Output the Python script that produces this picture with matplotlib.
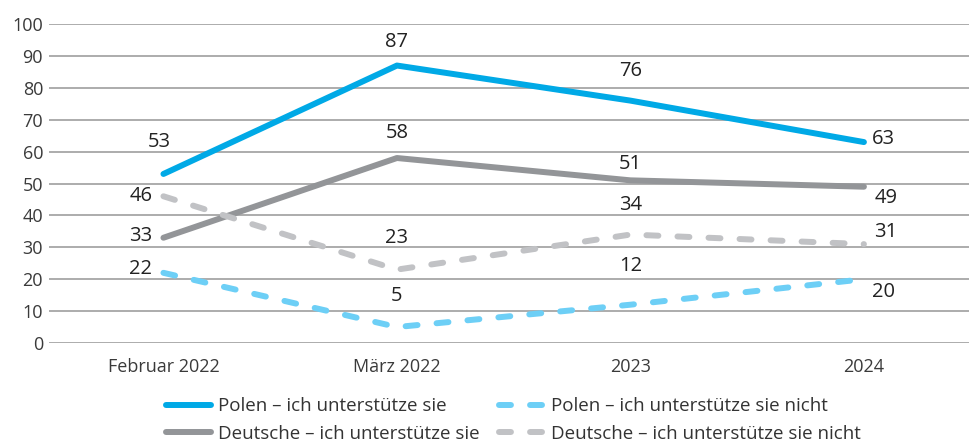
import matplotlib
matplotlib.use("Agg")
from matplotlib import pyplot as plt

plt.rcParams['font.family'] = ['Open Sans', 'DejaVu Sans']

kategorien = ['Februar 2022', 'März 2022', '2023', '2024']
polen_ja = [53, 87, 76, 63]
polen_nein = [22, 5, 12, 20]
deutsche_ja = [33, 58, 51, 49]
deutsche_nein = [46, 23, 34, 31]

namen = ['Polen – ich unterstütze sie', 'Deutsche – ich unterstütze sie',
         'Polen – ich unterstütze sie nicht', 'Deutsche – ich unterstütze sie nicht']

fig = plt.figure(figsize=(9.69, 4.46), dpi=100)
ax = fig.add_axes([0.0506, 0.231, 0.9494, 0.715])

x = range(len(kategorien))
lw = 4.3
l1, = ax.plot(x, polen_ja, color='#00a9e6', lw=lw, solid_capstyle='round', clip_on=False)
l2, = ax.plot(x, deutsche_ja, color='#939598', lw=lw, solid_capstyle='round', clip_on=False)
l3, = ax.plot(x, polen_nein, color='#6dcff6', lw=lw, dashes=(2, 3.2),
              dash_capstyle='round', clip_on=False)
l4, = ax.plot(x, deutsche_nein, color='#c1c2c5', lw=lw, dashes=(2, 3.2),
              dash_capstyle='round', clip_on=False)

# Beschriftungen (Versatz in Punkten)
def label(xs, ys, offs):
    for xi, yi, (dx, dy, ha) in zip(xs, ys, offs):
        ax.annotate(str(yi), (xi, yi), xytext=(dx, dy), textcoords='offset points',
                    ha=ha, va='center', fontsize=14.5, color='#222222')

label(x, polen_ja, [(-3, 23, 'center'), (0, 17, 'center'), (0, 21, 'center'), (6, 2, 'left')])
label(x, deutsche_ja, [(-8, 1, 'right'), (0, 18, 'center'), (0, 12, 'center'), (8, -8, 'left')])
label(x, deutsche_nein, [(-8, 0, 'right'), (0, 23, 'center'), (0, 21, 'center'), (7, 9, 'left')])
label(x, polen_nein, [(-8, 3, 'right'), (0, 22, 'center'), (0, 28, 'center'), (6, -9, 'left')])

ax.set_ylim(0, 100)
ax.set_xlim(-0.49, 3.45)
ax.set_yticks(range(0, 101, 10))
ax.set_xticks(list(x))
ax.set_xticklabels(kategorien)
ax.tick_params(axis='both', length=0, labelsize=13, labelcolor='#3a3a3a')
ax.tick_params(axis='y', pad=4.3)
ax.tick_params(axis='x', pad=11)
ax.grid(axis='y', color='#a6a6a6', lw=1.3)
ax.set_axisbelow(True)
for s in ax.spines.values():
    s.set_visible(False)

fig.legend([l1, l2, l3, l4], namen, ncol=2, loc='lower left',
           bbox_to_anchor=(0.154, -0.03), frameon=False, fontsize=13.5,
           handlelength=2.4, handletextpad=0.35, columnspacing=1.07,
           labelspacing=0.5, labelcolor='#333333')

fig.savefig('out.png', dpi=100)
